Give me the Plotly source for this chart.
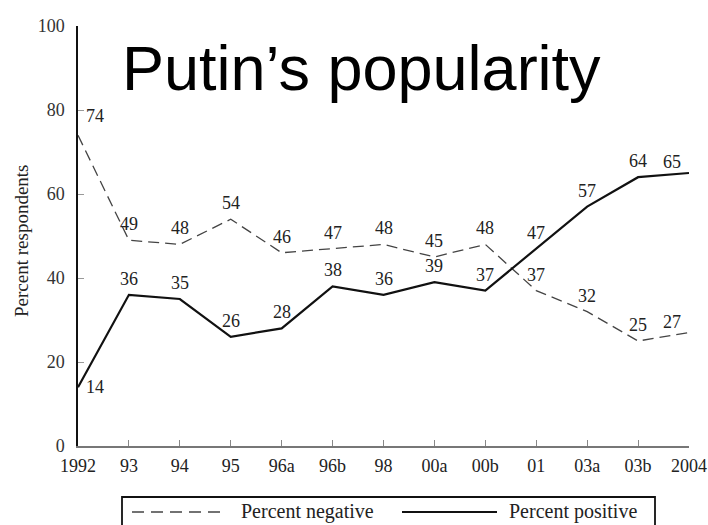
import plotly.graph_objects as go

# Survey waves and shares of respondents
waves = ["1992", "93", "94", "95", "96a", "96b", "98", "00a", "00b", "01", "03a", "03b", "2004"]
pct_negative = [74, 49, 48, 54, 46, 47, 48, 45, 48, 37, 32, 25, 27]
pct_positive = [14, 36, 35, 26, 28, 38, 36, 39, 37, 47, 57, 64, 65]
y_ticks = [0, 20, 40, 60, 80, 100]

serif = "Liberation Serif, Times New Roman, serif"
ink = "#222222"
W, H = 708, 525
L, R, T, B = 78, 19, 26, 79
pw, ph = W - L - R, H - T - B


def px_x(px):
    return (px - L) / pw


def px_y(py):
    return (H - B - py) / ph


xs = list(range(len(waves)))
fig = go.Figure()
fig.add_trace(go.Scatter(
    x=xs, y=pct_negative, name="Percent negative", mode="lines",
    line=dict(color="#444444", width=1.3, dash="11px,6px"),
    showlegend=False,
))
fig.add_trace(go.Scatter(
    x=xs, y=pct_positive, name="Percent positive", mode="lines",
    line=dict(color="#111111", width=2.2),
    showlegend=False,
))

annotations = []


def value_labels(values):
    last = len(values) - 1
    for i, v in enumerate(values):
        if i == 0:
            dx, dy = 17, (19 if v > 50 else 0)
        elif i == last:
            dx, dy = -17, 11
        else:
            dx, dy = 0, 16
        annotations.append(dict(
            x=i, y=v, text=str(v), showarrow=False, xshift=dx, yshift=dy,
            font=dict(family=serif, size=18, color=ink),
        ))


value_labels(pct_negative)
value_labels(pct_positive)

# title
annotations.append(dict(
    text="Putin’s popularity", x=px_x(361), y=px_y(68), xref="paper", yref="paper",
    showarrow=False, xanchor="center", yanchor="middle",
    font=dict(family="Liberation Sans, Arial, sans-serif", size=63, color="black"),
))

# y-axis title
annotations.append(dict(
    text="Percent respondents", x=px_x(22), y=px_y(241), xref="paper", yref="paper",
    showarrow=False, xanchor="center", yanchor="middle", textangle=-90,
    font=dict(family=serif, size=19, color=ink),
))

# legend box below the axis
leg_y = px_y(512)
annotations.append(dict(
    text="Percent negative", x=px_x(239), y=leg_y, xref="paper", yref="paper",
    showarrow=False, xanchor="left", yanchor="middle",
    font=dict(family=serif, size=20, color=ink),
))
annotations.append(dict(
    text="Percent positive", x=px_x(507), y=leg_y, xref="paper", yref="paper",
    showarrow=False, xanchor="left", yanchor="middle",
    font=dict(family=serif, size=20, color=ink),
))
shapes = [
    dict(type="rect", xref="paper", yref="paper",
         x0=px_x(122), x1=px_x(655), y0=px_y(497), y1=px_y(540),
         line=dict(color="#111111", width=1.8), fillcolor="rgba(0,0,0,0)"),
    dict(type="line", xref="paper", yref="paper",
         x0=px_x(132), x1=px_x(220), y0=leg_y, y1=leg_y,
         line=dict(color="#444444", width=1.3, dash="12px,7px")),
    dict(type="line", xref="paper", yref="paper",
         x0=px_x(402), x1=px_x(497), y0=leg_y, y1=leg_y,
         line=dict(color="#111111", width=2)),
]

fig.update_layout(
    width=W, height=H,
    margin=dict(l=L, r=R, t=T, b=B),
    paper_bgcolor="white", plot_bgcolor="white",
    showlegend=False,
    annotations=annotations,
    shapes=shapes,
)

fig.update_xaxes(
    range=[0, len(waves) - 1], tickmode="array",
    tickvals=xs, ticktext=waves,
    ticks="inside", ticklen=6, tickcolor="#888888",
    showline=True, linecolor="#777777", linewidth=1.5,
    showgrid=False, zeroline=False, automargin=False,
    tickfont=dict(family=serif, size=18, color=ink),
    ticklabelstandoff=3,
)
fig.update_yaxes(
    range=[0, 100], tickvals=y_ticks,
    ticks="inside", ticklen=6, tickcolor="#999999",
    showline=True, linecolor="#111111", linewidth=1.5,
    showgrid=False, zeroline=False, automargin=False,
    tickfont=dict(family=serif, size=18, color="#333333"),
    ticklabelstandoff=8,
)

fig.write_html("out.html")
